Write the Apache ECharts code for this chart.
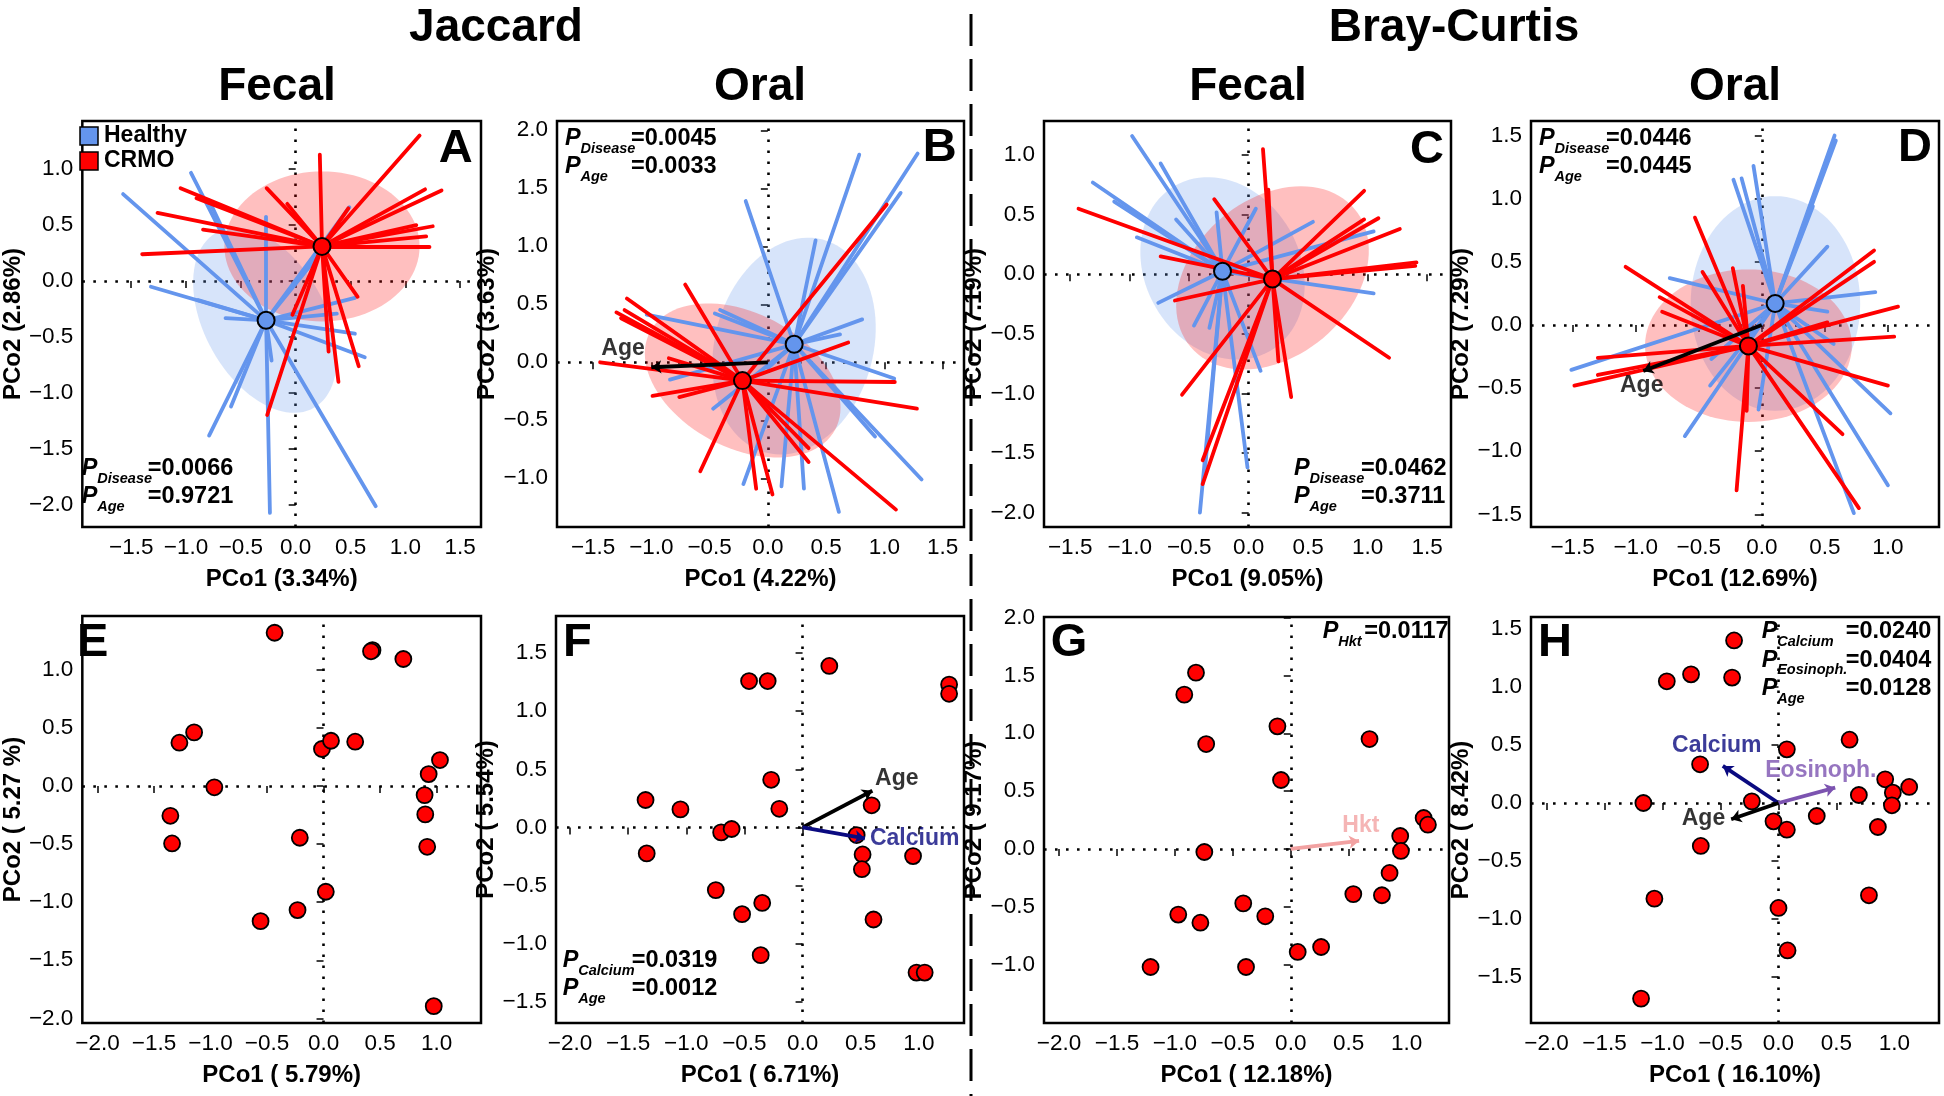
<!DOCTYPE html>
<html><head><meta charset="utf-8">
<script src="https://cdn.jsdelivr.net/npm/echarts@6/dist/echarts.min.js"></script>
<style>html,body{margin:0;padding:0;background:#fff}#c{width:1944px;height:1096px}</style>
</head><body><div id="c"></div><script>
// ---------------- DATA ----------------
// Tick values
const ticksA_x = [-1.5,-1,-0.5,0,0.5,1,1.5], ticksA_y = [-2,-1.5,-1,-0.5,0,0.5,1];
const ticksB_x = [-1.5,-1,-0.5,0,0.5,1,1.5], ticksB_y = [-1,-0.5,0,0.5,1,1.5,2];
const ticksC_x = [-1.5,-1,-0.5,0,0.5,1,1.5], ticksC_y = [-2,-1.5,-1,-0.5,0,0.5,1];
const ticksD_x = [-1.5,-1,-0.5,0,0.5,1],     ticksD_y = [-1.5,-1,-0.5,0,0.5,1,1.5];
const ticksE_x = [-2,-1.5,-1,-0.5,0,0.5,1],  ticksE_y = [-2,-1.5,-1,-0.5,0,0.5,1];
const ticksF_x = [-2,-1.5,-1,-0.5,0,0.5,1],  ticksF_y = [-1.5,-1,-0.5,0,0.5,1,1.5];
const ticksG_x = [-2,-1.5,-1,-0.5,0,0.5,1],  ticksG_y = [-1,-0.5,0,0.5,1,1.5,2];
const ticksH_x = [-2,-1.5,-1,-0.5,0,0.5,1],  ticksH_y = [-1.5,-1,-0.5,0,0.5,1,1.5];

// Axis titles
const xTitles = ['PCo1 (3.34%)','PCo1 (4.22%)','PCo1 (9.05%)','PCo1 (12.69%)','PCo1 ( 5.79%)','PCo1 ( 6.71%)','PCo1 ( 12.18%)','PCo1 ( 16.10%)'];
const yTitles = ['PCo2 (2.86%)','PCo2 (3.63%)','PCo2 (7.19%)','PCo2 (7.29%)','PCo2 ( 5.27 %)','PCo2 ( 5.54%)','PCo2 ( 9.17%)','PCo2 ( 8.42%)'];

// Panel A (Jaccard, fecal)
const A_centHealthy = [-0.27,-0.35];
const A_centCRMO = [0.24,0.31];
const A_healthy = [[-1.574,0.777],[-0.955,0.967],[-0.79,0.72],[-0.27,0.574],[-1.32,-0.05],[-0.89,-0.17],[-0.64,-0.33],[0.49,0.66],[0.2,0.22],[0.54,-0.15],[0.54,-0.47],[0.63,-0.68],[0.375,-0.29],[0.73,-2.01],[-0.235,-2.07],[-0.22,-0.71],[-0.79,-1.38],[-0.59,-1.12]];
const A_crmo = [[-1.40,0.24],[-1.26,0.61],[-1.05,0.83],[-0.905,0.74],[-0.845,0.46],[-0.265,0.83],[-0.077,0.69],[0.22,1.13],[1.13,1.30],[1.18,0.82],[1.33,0.81],[1.10,0.50],[1.25,0.49],[1.19,0.40],[1.22,0.31],[0.48,0.65],[0.565,-0.14],[0.575,-0.76],[0.39,-0.90],[0.30,-0.63],[-0.03,-0.30],[-0.26,-1.196]];
const A_ellHealthy = [-0.28,-0.35,0.9,0.55,-60];   // cx, cy, semi-axis a, semi-axis b, rotation
const A_ellCRMO = [0.24,0.31,0.89,0.67,0];

// Panel B (Jaccard, oral)
const B_centHealthy = [0.226,0.155];
const B_centCRMO = [-0.218,-0.158];
const B_healthy = [[0.785,1.79],[1.286,1.80],[1.14,1.46],[0.41,1.05],[-0.19,1.39],[0.81,0.37],[0.62,0.24],[-0.41,0.45],[-0.455,0.42],[-1.04,0.41],[-0.84,-0.15],[-0.47,-0.40],[-0.21,-1.05],[0.117,-1.07],[0.31,-1.09],[0.61,-1.29],[0.92,-0.64],[1.085,-0.14],[1.32,-1.01],[0.0,-0.05]];
const B_crmo = [[-1.44,0.0],[-1.30,0.43],[-1.23,0.45],[-1.21,0.55],[-1.26,0.38],[-0.71,0.67],[-0.85,0.035],[-0.99,-0.29],[-0.76,-0.30],[1.02,1.36],[0.69,0.17],[1.09,-0.17],[1.28,-0.40],[1.10,-1.27],[0.35,-0.86],[0.35,-0.74],[0.04,-1.14],[-0.1,-1.09],[-0.58,-0.94]];
const B_ellHealthy = [0.225,0.14,0.95,0.68,75];
const B_ellCRMO = [-0.216,-0.157,0.9,0.58,-28];

// Panel C (Bray-Curtis, fecal)
const C_centHealthy = [-0.22,0.025];
const C_centCRMO = [0.20,-0.04];
const C_healthy = [[-0.98,1.16],[-0.74,0.93],[-1.31,0.77],[-1.13,0.61],[-0.61,0.46],[-0.94,0.31],[-0.27,0.52],[0.06,0.55],[0.54,0.44],[1.05,0.36],[1.05,-0.16],[-0.76,-0.24],[-0.46,-0.43],[-0.33,-0.45],[0.10,-0.81],[-0.01,-1.62],[-0.41,-2.0],[-0.37,-1.67]];
const C_crmo = [[-1.43,0.55],[-0.74,0.15],[-0.62,-0.22],[-0.29,0.63],[0.12,1.05],[0.165,0.71],[0.97,0.70],[0.97,0.46],[1.09,0.47],[1.27,0.38],[1.41,0.10],[1.40,0.07],[1.18,-0.70],[0.357,-1.03],[0.25,-0.73],[-0.56,-1.01],[-0.387,-1.56],[-0.387,-1.76]];
const C_ellHealthy = [-0.22,0.05,0.8,0.65,-60];
const C_ellCRMO = [0.2,-0.03,0.9,0.66,40];

// Panel D (Bray-Curtis, oral)
const D_centHealthy = [0.106,0.17];
const D_centCRMO = [-0.106,-0.166];
const D_healthy = [[0.577,1.50],[0.587,1.46],[0.405,0.94],[-0.066,1.26],[-0.16,1.16],[-0.225,1.15],[0.52,0.62],[-0.73,0.37],[0.90,0.26],[0.52,0.105],[0.57,-0.15],[-1.51,-0.356],[-0.61,-0.88],[-0.41,-0.48],[-0.026,-0.67],[1.02,-0.70],[1.0,-1.27],[0.73,-1.49],[-0.4,-0.27]];
const D_crmo = [[-0.53,0.85],[-1.08,0.46],[-0.81,0.22],[-0.79,0.105],[-0.47,0.42],[-0.23,0.45],[-0.15,0.31],[-1.30,-0.26],[-1.30,-0.396],[-1.486,-0.48],[0.89,0.59],[0.89,0.50],[1.08,0.145],[0.52,0.02],[1.05,-0.092],[1.0,-0.48],[0.64,-0.865],[0.77,-1.45],[-0.20,-1.31],[-0.12,-0.68]];
const D_ellHealthy = [0.108,0.17,0.672,0.85,0];
const D_ellCRMO = [-0.106,-0.164,0.82,0.604,0];

// Bottom row: CRMO samples
const E_points = [[-0.433,1.32],[0.433,1.17],[0.42,1.16],[0.706,1.094],[-1.145,0.462],[-1.275,0.373],[-0.014,0.319],[0.066,0.39],[0.28,0.382],[1.03,0.224],[0.93,0.103],[-0.966,-0.011],[0.894,-0.078],[0.90,-0.244],[0.917,-0.523],[-1.355,-0.256],[-1.34,-0.494],[-0.21,-0.445],[0.02,-0.91],[-0.23,-1.068],[-0.557,-1.163],[0.975,-1.895]];
const F_points = [[0.23,1.39],[-0.46,1.26],[-0.30,1.26],[1.26,1.23],[1.26,1.15],[-0.27,0.41],[-1.35,0.236],[-1.05,0.155],[-0.20,0.16],[0.594,0.19],[-0.70,-0.043],[-0.61,-0.014],[0.465,-0.066],[-1.34,-0.224],[0.516,-0.233],[0.51,-0.36],[0.95,-0.247],[-0.746,-0.54],[-0.347,-0.65],[-0.52,-0.747],[0.61,-0.793],[-0.36,-1.10],[0.98,-1.25],[1.05,-1.25]];
const G_points = [[-0.818,1.524],[-0.919,1.334],[-0.115,1.06],[-0.73,0.907],[-0.084,0.596],[0.68,0.95],[1.147,0.268],[1.184,0.21],[0.945,0.112],[0.951,-0.017],[-0.746,-0.026],[0.853,-0.207],[0.54,-0.39],[0.787,-0.40],[-0.41,-0.47],[-0.971,-0.567],[-0.78,-0.637],[-0.22,-0.582],[0.06,-0.89],[0.262,-0.847],[-1.21,-1.02],[-0.386,-1.02]];
const H_points = [[-0.383,1.40],[-0.754,1.108],[-0.963,1.048],[-0.40,1.08],[0.072,0.462],[0.613,0.545],[-0.676,0.333],[0.92,0.204],[1.127,0.138],[0.986,0.089],[0.693,0.069],[0.978,-0.02],[-0.23,0.014],[-1.165,0.0],[0.33,-0.112],[-0.043,-0.158],[0.072,-0.23],[0.857,-0.207],[-0.67,-0.37],[-1.07,-0.824],[0.78,-0.795],[0.0,-0.904],[0.078,-1.27],[-1.185,-1.685]];

// Fitted vectors (arrow tips) and label anchor points
const B_vectors = [{name:'Age', tip:[-1.0,-0.043], label:[-1.243,0.12], color:'#000000'}];
const D_vectors = [{name:'Age', tip:[-0.94,-0.364], label:[-0.952,-0.483], color:'#000000'}];
const F_vectors = [{name:'Age', tip:[0.6,0.316], label:[0.81,0.417], color:'#000000'},
                   {name:'Calcium', tip:[0.536,-0.095], label:[0.964,-0.095], color:'#0a0a80'}];
const G_vectors = [{name:'Hkt', tip:[0.59,0.07], label:[0.605,0.199], color:'#F2A2A2'}];
const H_vectors = [{name:'Calcium', tip:[-0.48,0.319], label:[-0.532,0.491], color:'#0a0a80'},
                   {name:'Eosinoph.', tip:[0.489,0.132], label:[0.365,0.281], color:'#7C53B0'},
                   {name:'Age', tip:[-0.408,-0.14], label:[-0.647,-0.135], color:'#000000'}];

// P values
const pA = [['Disease','=0.0066'],['Age','=0.9721']];
const pB = [['Disease','=0.0045'],['Age','=0.0033']];
const pC = [['Disease','=0.0462'],['Age','=0.3711']];
const pD = [['Disease','=0.0446'],['Age','=0.0445']];
const pF = [['Calcium','=0.0319'],['Age','=0.0012']];
const pG = [['Hkt','=0.0117']];
const pH = [['Calcium','=0.0240'],['Eosinoph.','=0.0404'],['Age','=0.0128']];

// ---------------- LAYOUT ----------------
const FONT = '"Liberation Sans", Arial, Helvetica, sans-serif';
const BLUE = '#6495ED', RED = '#FF0000';
const BLUE_FILL = 'rgba(100,149,237,0.26)', RED_FILL = 'rgba(255,0,0,0.25)';

const panels = [
  {box:[73,121,481,527],  xr:[-1.946,1.69], yr:[-2.196,1.43], xt:ticksA_x, yt:ticksA_y, yGap:47, kind:'spider',
   cH:A_centHealthy, cC:A_centCRMO, pH:A_healthy, pC:A_crmo, eH:A_ellHealthy, eC:A_ellCRMO, vec:[]},
  {box:[557,121,964,527], xr:[-1.81,1.684], yr:[-1.42,2.08], xt:ticksB_x, yt:ticksB_y, yGap:44, kind:'spider',
   cH:B_centHealthy, cC:B_centCRMO, pH:B_healthy, pC:B_crmo, eH:B_ellHealthy, eC:B_ellCRMO, vec:B_vectors},
  {box:[1044,121,1451,527], xr:[-1.72,1.70], yr:[-2.12,1.286], xt:ticksC_x, yt:ticksC_y, yGap:45, kind:'spider',
   cH:C_centHealthy, cC:C_centCRMO, pH:C_healthy, pC:C_crmo, eH:C_ellHealthy, eC:C_ellCRMO, vec:[]},
  {box:[1531,121,1939,527], xr:[-1.83,1.405], yr:[-1.6,1.615], xt:ticksD_x, yt:ticksD_y, yGap:45.5, kind:'spider',
   cH:D_centHealthy, cC:D_centCRMO, pH:D_healthy, pC:D_crmo, eH:D_ellHealthy, eC:D_ellCRMO, vec:D_vectors},
  {box:[73,616,481,1023], xr:[-2.134,1.393], yr:[-2.04,1.464], xt:ticksE_x, yt:ticksE_y, yGap:48.5, kind:'points', pts:E_points, vec:[]},
  {box:[556,616,964,1023], xr:[-2.12,1.388], yr:[-1.684,1.82], xt:ticksF_x, yt:ticksF_y, yGap:44, kind:'points', pts:F_points, vec:F_vectors},
  {box:[1044,617,1449,1023], xr:[-2.13,1.366], yr:[-1.504,2.005], xt:ticksG_x, yt:ticksG_y, yGap:46, kind:'points', pts:G_points, vec:G_vectors},
  {box:[1531,617,1939,1023], xr:[-2.134,1.384], yr:[-1.895,1.602], xt:ticksH_x, yt:ticksH_y, yGap:45.5, kind:'points', pts:H_points, vec:H_vectors}
];

const fmt = v => (v < 0 ? '\u2212' : '') + Math.abs(v).toFixed(1);

function axisCfg(i, range, ticks, name, gap) {
  return {
    type:'value', gridIndex:i, min:range[0], max:range[1],
    axisLine:{show:false}, splitLine:{show:false},
    axisTick:{show:true, customValues:ticks, length:7, inside:false, lineStyle:{color:'#000', width:1.5}},
    axisLabel:{show:true, customValues:ticks, formatter:fmt, fontSize:22.5, color:'#000', fontFamily:FONT, margin:9, hideOverlap:false},
    name:name, nameLocation:'middle', nameGap:gap,
    nameTextStyle:{fontSize:24, fontWeight:'bold', color:'#000', fontFamily:FONT}
  };
}

function ellipseSeries(i, e, fill) {
  return {
    type:'custom', xAxisIndex:i, yAxisIndex:i, z:1, silent:true,
    data:[[e[0], e[1]]],
    renderItem:(params, api) => {
      const th = e[4] * Math.PI / 180, pts = [];
      for (let k = 0; k < 96; k++) {
        const t = k / 96 * 2 * Math.PI;
        const x = e[0] + e[2]*Math.cos(t)*Math.cos(th) - e[3]*Math.sin(t)*Math.sin(th);
        const y = e[1] + e[2]*Math.cos(t)*Math.sin(th) + e[3]*Math.sin(t)*Math.cos(th);
        pts.push(api.coord([x, y]));
      }
      return {type:'polygon', shape:{points:pts}, style:{fill:fill, stroke:null}};
    }
  };
}

function spiderSeries(i, c, pts, color, name) {
  return {
    type:'lines', name:name, coordinateSystem:'cartesian2d', xAxisIndex:i, yAxisIndex:i, z:3, silent:true,
    symbol:'none', polyline:false,
    lineStyle:{color:color, width:3.8, opacity:1, cap:'round'},
    data: pts.map(p => ({coords:[c, p]}))
  };
}

function zeroLines() {
  return {silent:true, symbol:['none','none'], z:1, animation:false, label:{show:false},
    lineStyle:{color:'#000', type:[2.6,8.4], width:2.6, cap:'butt'}, data:[{xAxis:0},{yAxis:0}]};
}

const grid = [], xAxis = [], yAxis = [], series = [], graphic = [];

panels.forEach((p, i) => {
  const [l,t,r,b] = p.box;
  grid.push({left:l, top:t, width:r-l, height:b-t, show:true, borderColor:'#000', borderWidth:2.5, backgroundColor:'rgba(0,0,0,0)'});
  xAxis.push(axisCfg(i, p.xr, p.xt, xTitles[i], 40.5));
  yAxis.push(axisCfg(i, p.yr, p.yt, yTitles[i], p.yGap));

  if (p.kind === 'spider') {
    series.push(ellipseSeries(i, p.eH, BLUE_FILL));
    series.push(ellipseSeries(i, p.eC, RED_FILL));
    series.push(spiderSeries(i, p.cH, p.pH, BLUE, 'Healthy'));
    series.push(spiderSeries(i, p.cC, p.pC, RED, 'CRMO'));
    series.push({type:'scatter', xAxisIndex:i, yAxisIndex:i, z:5, silent:true, symbolSize:17,
      data:[{value:p.cH, itemStyle:{color:BLUE}}, {value:p.cC, itemStyle:{color:RED}}],
      itemStyle:{borderColor:'#000', borderWidth:2, opacity:1},
      markLine:zeroLines()});
  } else {
    series.push({type:'scatter', xAxisIndex:i, yAxisIndex:i, z:4, silent:true, symbolSize:16,
      data:p.pts, itemStyle:{color:RED, borderColor:'#000', borderWidth:1.8, opacity:1},
      markLine:zeroLines()});
  }
  p.vec.forEach(v => {
    series.push({type:'lines', coordinateSystem:'cartesian2d', xAxisIndex:i, yAxisIndex:i, z:6, silent:true,
      symbol:['none','arrow'], symbolSize:[9,10], polyline:false,
      lineStyle:{color:v.color, width:3.8, opacity:1},
      itemStyle:{color:v.color},
      data:[{coords:[[0,0], v.tip]}]});
    series.push({type:'scatter', xAxisIndex:i, yAxisIndex:i, z:7, silent:true, symbolSize:1,
      itemStyle:{color:'rgba(0,0,0,0)'},
      label:{show:true, position:'inside', formatter:'{b}', color:v.color, fontSize:23, fontWeight:'bold', fontFamily:FONT},
      data:[{name:v.name, value:v.label}]});
  });
});

// ---------- text annotations ----------
function txt(s, x, y, size, o) {
  o = o || {};
  return {type:'text', x:x, y:y, z:100, silent:true,
    style:{text:s, fontSize:size, fontWeight:o.w || 'bold', fontStyle:o.i ? 'italic' : 'normal', fontFamily:FONT,
      fill:o.c || '#000', align:o.a || 'left', verticalAlign:'middle'}};
}
function pBlock(x, y, rows, dx, gap) {
  gap = gap || 28;
  rows.forEach((r, k) => {
    const by = y + k*gap;
    graphic.push(txt('P', x, by - 8, 23.5, {i:true}));
    graphic.push(txt(r[0], x + 15.5, by + 2, 14.5, {i:true}));
    graphic.push(txt(r[1], x + dx, by - 8, 23.5));
  });
}
pBlock(81.7, 476.7, pA, 66);
pBlock(565, 146.7, pB, 66);
pBlock(1294, 476.7, pC, 67);
pBlock(1539, 146.7, pD, 67);
pBlock(562.7, 969, pF, 69);
pBlock(1322.7, 640, pG, 41.6);
pBlock(1761.7, 640, pH, 84, 28.3);

// headers
graphic.push(txt('Jaccard', 496, 28.5, 46, {a:'center'}));
graphic.push(txt('Bray-Curtis', 1454, 28.5, 46, {a:'center'}));
graphic.push(txt('Fecal', 277, 87.5, 46, {a:'center'}));
graphic.push(txt('Oral', 760, 87.5, 46, {a:'center'}));
graphic.push(txt('Fecal', 1248, 87.5, 46, {a:'center'}));
graphic.push(txt('Oral', 1735, 87.5, 46, {a:'center'}));

// panel letters
[['A',472.7,149,'right'],['B',956.7,148,'right'],['C',1444,150,'right'],['D',1932,148,'right'],
 ['E',77,643,'left'],['F',563,643,'left'],['G',1050.7,643,'left'],['H',1538,643,'left']]
 .forEach(L => graphic.push(txt(L[0], L[1], L[2], 47, {a:L[3]})));

// legend (panel A)
graphic.push({type:'rect', z:100, shape:{x:80, y:127, width:18, height:18}, style:{fill:BLUE, stroke:'#000', lineWidth:1.5}});
graphic.push({type:'rect', z:100, shape:{x:80, y:152, width:18, height:18}, style:{fill:RED, stroke:'#000', lineWidth:1.5}});
graphic.push(txt('Healthy', 104, 136, 23));
graphic.push(txt('CRMO', 104, 161, 23));

// vertical dashed separator
graphic.push({type:'line', z:100, shape:{x1:971, y1:14, x2:971, y2:1096}, style:{stroke:'#000', lineWidth:3, lineDash:[32,13]}});

const chart = echarts.init(document.getElementById('c'), null, {renderer:'canvas', width:1944, height:1096});
chart.setOption({animation:false, backgroundColor:'#fff', grid, xAxis, yAxis, series, graphic});
</script></body></html>
